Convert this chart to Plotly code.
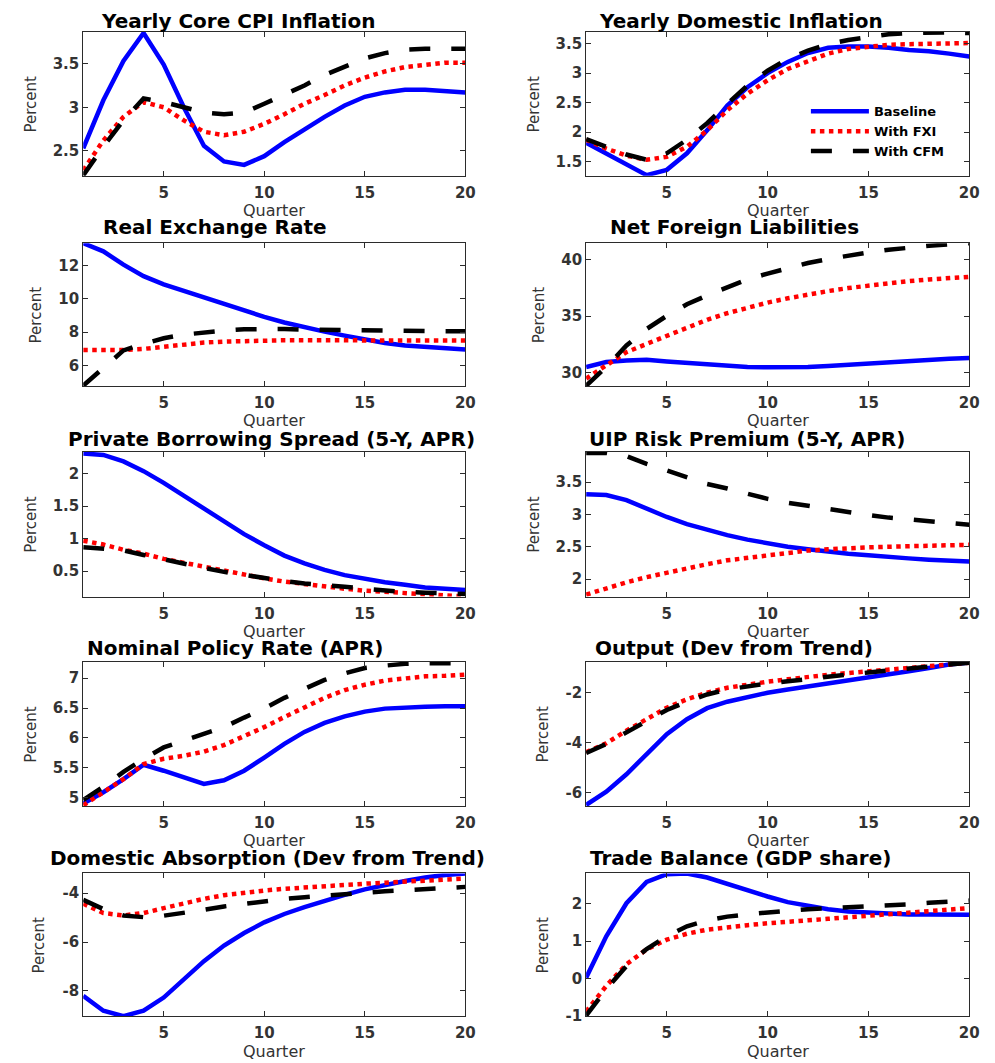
import plotly.graph_objects as go

quarters = list(range(1, 21))

# ---- data ----
core_cpi_baseline = [2.53, 3.08, 3.53, 3.85, 3.49, 3.0, 2.56, 2.38, 2.34, 2.44, 2.6, 2.75, 2.89, 3.02, 3.12, 3.17, 3.2, 3.2, 3.19, 3.17]
core_cpi_fxi = [2.28, 2.62, 2.89, 3.06, 3.0, 2.85, 2.72, 2.68, 2.72, 2.81, 2.92, 3.04, 3.14, 3.25, 3.34, 3.41, 3.46, 3.49, 3.51, 3.51]
core_cpi_cfm = [2.22, 2.55, 2.85, 3.1, 3.06, 3.0, 2.94, 2.92, 2.94, 3.04, 3.14, 3.25, 3.37, 3.47, 3.56, 3.62, 3.66, 3.67, 3.67, 3.67]

dom_inf_baseline = [1.82, 1.64, 1.44, 1.27, 1.36, 1.64, 2.03, 2.45, 2.76, 3.0, 3.19, 3.34, 3.43, 3.45, 3.45, 3.43, 3.39, 3.37, 3.33, 3.28]
dom_inf_fxi = [1.87, 1.72, 1.6, 1.53, 1.58, 1.75, 2.03, 2.37, 2.65, 2.88, 3.07, 3.21, 3.33, 3.41, 3.45, 3.48, 3.49, 3.5, 3.51, 3.51]
dom_inf_cfm = [1.88, 1.75, 1.62, 1.53, 1.64, 1.87, 2.15, 2.48, 2.79, 3.04, 3.24, 3.38, 3.49, 3.56, 3.61, 3.66, 3.68, 3.69, 3.69, 3.68]

rer_baseline = [13.35, 12.86, 12.06, 11.37, 10.87, 10.47, 10.08, 9.68, 9.28, 8.92, 8.58, 8.29, 8.03, 7.79, 7.55, 7.35, 7.19, 7.09, 7.03, 6.95]
rer_fxi = [6.93, 6.9, 6.93, 6.99, 7.13, 7.25, 7.37, 7.43, 7.47, 7.49, 7.51, 7.51, 7.5, 7.5, 7.49, 7.49, 7.49, 7.49, 7.49, 7.49]
rer_cfm = [4.78, 5.8, 6.9, 7.3, 7.63, 7.85, 7.99, 8.09, 8.17, 8.19, 8.19, 8.15, 8.13, 8.1, 8.09, 8.08, 8.07, 8.06, 8.05, 8.05]

nfl_baseline = [30.5, 30.94, 31.08, 31.14, 30.99, 30.85, 30.7, 30.58, 30.5, 30.47, 30.47, 30.5, 30.58, 30.7, 30.79, 30.9, 31.02, 31.14, 31.23, 31.29]
nfl_fxi = [29.47, 30.64, 31.81, 32.54, 33.27, 34.0, 34.68, 35.26, 35.76, 36.2, 36.58, 36.93, 37.22, 37.49, 37.72, 37.92, 38.1, 38.25, 38.36, 38.48]
nfl_cfm = [28.83, 30.5, 32.4, 33.86, 35.03, 36.05, 36.84, 37.57, 38.25, 38.77, 39.27, 39.71, 40.06, 40.38, 40.64, 40.88, 41.08, 41.23, 41.35, 41.46]

spread_baseline = [2.31, 2.29, 2.19, 2.04, 1.86, 1.66, 1.45, 1.25, 1.07, 0.9, 0.74, 0.62, 0.52, 0.44, 0.38, 0.33, 0.29, 0.25, 0.23, 0.21]
spread_fxi = [0.97, 0.91, 0.83, 0.77, 0.69, 0.63, 0.57, 0.5, 0.44, 0.39, 0.34, 0.3, 0.26, 0.23, 0.2, 0.18, 0.16, 0.14, 0.12, 0.11]
spread_cfm = [0.87, 0.85, 0.82, 0.75, 0.68, 0.62, 0.55, 0.49, 0.44, 0.39, 0.35, 0.31, 0.29, 0.26, 0.23, 0.2, 0.18, 0.17, 0.16, 0.15]

uip_baseline = [3.31, 3.3, 3.22, 3.09, 2.96, 2.85, 2.76, 2.68, 2.61, 2.55, 2.5, 2.46, 2.42, 2.39, 2.37, 2.34, 2.32, 2.3, 2.29, 2.27]
uip_fxi = [1.76, 1.86, 1.95, 2.03, 2.1, 2.17, 2.23, 2.29, 2.33, 2.37, 2.41, 2.44, 2.46, 2.48, 2.49, 2.5, 2.51, 2.52, 2.53, 2.53]
uip_cfm = [3.95, 3.95, 3.9, 3.78, 3.68, 3.58, 3.47, 3.4, 3.32, 3.24, 3.18, 3.13, 3.08, 3.03, 2.99, 2.95, 2.92, 2.89, 2.87, 2.84]

policy_baseline = [4.9, 5.09, 5.31, 5.55, 5.45, 5.33, 5.23, 5.29, 5.45, 5.67, 5.9, 6.1, 6.25, 6.36, 6.44, 6.49, 6.51, 6.52, 6.53, 6.53]
policy_fxi = [4.87, 5.09, 5.31, 5.56, 5.65, 5.7, 5.77, 5.88, 6.02, 6.18, 6.35, 6.51, 6.67, 6.8, 6.89, 6.96, 7.0, 7.03, 7.04, 7.06]
policy_cfm = [4.96, 5.18, 5.43, 5.65, 5.84, 5.95, 6.06, 6.18, 6.34, 6.49, 6.67, 6.83, 6.97, 7.08, 7.17, 7.21, 7.24, 7.25, 7.25, 7.25]

output_baseline = [-6.5, -5.97, -5.27, -4.45, -3.66, -3.06, -2.62, -2.36, -2.16, -2.0, -1.87, -1.75, -1.64, -1.54, -1.4, -1.27, -1.14, -1.01, -0.87, -0.79]
output_fxi = [-4.38, -4.03, -3.52, -3.06, -2.6, -2.26, -2.0, -1.8, -1.67, -1.56, -1.46, -1.36, -1.28, -1.21, -1.14, -1.06, -0.99, -0.93, -0.87, -0.8]
output_cfm = [-4.42, -4.05, -3.59, -3.13, -2.69, -2.36, -2.07, -1.87, -1.74, -1.63, -1.54, -1.44, -1.36, -1.27, -1.19, -1.1, -1.02, -0.94, -0.87, -0.8]

absorp_baseline = [-8.2, -8.81, -9.03, -8.81, -8.27, -7.53, -6.78, -6.14, -5.63, -5.19, -4.85, -4.57, -4.31, -4.07, -3.84, -3.66, -3.5, -3.36, -3.25, -3.19]
absorp_fxi = [-4.43, -4.81, -4.91, -4.81, -4.61, -4.41, -4.23, -4.08, -3.97, -3.89, -3.82, -3.76, -3.7, -3.65, -3.61, -3.57, -3.53, -3.48, -3.44, -3.4]
absorp_cfm = [-4.27, -4.65, -4.91, -4.98, -4.92, -4.81, -4.68, -4.54, -4.43, -4.31, -4.23, -4.16, -4.09, -4.03, -3.97, -3.92, -3.88, -3.82, -3.78, -3.74]

trade_baseline = [0.02, 1.13, 2.02, 2.59, 2.8, 2.82, 2.71, 2.53, 2.35, 2.2, 2.05, 1.95, 1.86, 1.8, 1.77, 1.74, 1.72, 1.72, 1.72, 1.71]
trade_fxi = [-0.89, -0.2, 0.38, 0.78, 1.04, 1.2, 1.31, 1.38, 1.43, 1.48, 1.51, 1.56, 1.6, 1.64, 1.68, 1.72, 1.77, 1.8, 1.85, 1.89]
trade_cfm = [-1.0, -0.29, 0.33, 0.79, 1.13, 1.4, 1.56, 1.66, 1.72, 1.78, 1.82, 1.86, 1.88, 1.9, 1.93, 1.96, 1.99, 2.03, 2.05, 2.09]

titles = ["Yearly Core CPI Inflation", "Yearly Domestic Inflation",
          "Real Exchange Rate", "Net Foreign Liabilities",
          "Private Borrowing Spread (5-Y, APR)", "UIP Risk Premium (5-Y, APR)",
          "Nominal Policy Rate (APR)", "Output (Dev from Trend)",
          "Domestic Absorption (Dev from Trend)", "Trade Balance (GDP share)"]
series = [
    (core_cpi_baseline, core_cpi_fxi, core_cpi_cfm),
    (dom_inf_baseline, dom_inf_fxi, dom_inf_cfm),
    (rer_baseline, rer_fxi, rer_cfm),
    (nfl_baseline, nfl_fxi, nfl_cfm),
    (spread_baseline, spread_fxi, spread_cfm),
    (uip_baseline, uip_fxi, uip_cfm),
    (policy_baseline, policy_fxi, policy_cfm),
    (output_baseline, output_fxi, output_cfm),
    (absorp_baseline, absorp_fxi, absorp_cfm),
    (trade_baseline, trade_fxi, trade_cfm),
]
y_ranges = [[2.216, 3.864], [1.26, 3.70], [4.75, 13.35], [28.8, 41.46], [0.11, 2.34],
            [1.73, 3.97], [4.86, 7.27], [-6.54, -0.77], [-9.04, -3.19], [-1.02, 2.82]]
y_ticks = [[2.5, 3, 3.5], [1.5, 2, 2.5, 3, 3.5], [6, 8, 10, 12], [30, 35, 40], [0.5, 1, 1.5, 2],
           [2, 2.5, 3, 3.5], [5, 5.5, 6, 6.5, 7], [-6, -4, -2], [-8, -6, -4], [-1, 0, 1, 2]]
y_ticklabels = [["2.5", "3", "3.5"], ["1.5", "2", "2.5", "3", "3.5"], ["6", "8", "10", "12"],
                ["30", "35", "40"], ["0.5", "1", "1.5", "2"], ["2", "2.5", "3", "3.5"],
                ["5", "5.5", "6", "6.5", "7"], ["-6", "-4", "-2"], ["-8", "-6", "-4"],
                ["-1", "0", "1", "2"]]
x_ticks = [5, 10, 15, 20]
names = ["Baseline", "With FXI", "With CFM"]

# ---- layout geometry (pixels) ----
W, H = 995, 1063
col_x = [(76, 462), (584, 971)]
row_y = [(24, 169), (237, 381), (447, 593), (659, 804), (872, 1016)]
title_cx = [232, 740, 209, 734, 266, 746, 230, 733, 262, 740]
title_top = [0, 0, 208, 208, 421, 421, 632, 632, 843, 843]
percent_x = [23, 531, 28, 536, 23, 531, 23, 540, 31, 540]

def px_x(p):
    return p / W

def px_y(p):
    return 1 - p / H

styles = [dict(color="#0000FF", width=4.5),
          dict(color="#FF0000", width=4.5, dash="dot"),
          dict(color="#000000", width=4.5, dash="21px,21px")]

fig = go.Figure()
layout = {}
annotations = []
axis_color = "#2b2b2b"
tick_font = dict(family="DejaVu Sans", size=15, color="#333333", weight="bold")

for i in range(10):
    r, c = divmod(i, 2)
    k = "" if i == 0 else str(i + 1)
    x0, x1 = col_x[c]
    y0, y1 = row_y[r]
    for j in range(3):
        fig.add_trace(go.Scatter(
            x=quarters, y=series[i][j], mode="lines", name=names[j],
            line=styles[j], showlegend=(i == 0),
            xaxis="x" + k, yaxis="y" + k))
    layout["xaxis" + k] = dict(
        domain=[px_x(x0), px_x(x1)], anchor="y" + k, range=[1, 20],
        tickvals=x_ticks, ticks="inside", ticklen=5, tickcolor=axis_color,
        showline=True, linecolor=axis_color, linewidth=1, mirror="ticks",
        showgrid=False, zeroline=False, tickfont=tick_font, ticklabelstandoff=3)
    layout["yaxis" + k] = dict(
        domain=[px_y(y1), px_y(y0)], anchor="x" + k, range=y_ranges[i],
        tickvals=y_ticks[i], ticktext=y_ticklabels[i], ticks="inside", ticklen=5,
        tickcolor=axis_color, showline=True, linecolor=axis_color, linewidth=1,
        mirror="ticks", showgrid=False, zeroline=False, tickfont=tick_font)
    annotations.append(dict(
        text=titles[i], x=px_x(title_cx[i]), y=px_y(title_top[i]), xref="paper", yref="paper",
        xanchor="center", yanchor="top", showarrow=False, borderpad=0,
        font=dict(family="DejaVu Sans", size=20, color="#000000", weight="bold")))
    annotations.append(dict(
        text="Quarter", x=px_x((x0 + x1) / 2), y=px_y(y1 + 35), xref="paper", yref="paper",
        xanchor="center", yanchor="middle", showarrow=False, borderpad=0,
        font=dict(family="DejaVu Sans", size=16, color="#333333")))
    annotations.append(dict(
        text="Percent", x=px_x(percent_x[i]), y=px_y((y0 + y1) / 2), xref="paper", yref="paper",
        xanchor="center", yanchor="middle", showarrow=False, textangle=-90,
        font=dict(family="DejaVu Sans", size=15, color="#333333")))

fig.update_layout(**layout)
fig.update_layout(
    width=W, height=H, margin=dict(l=0, r=0, t=0, b=0),
    paper_bgcolor="white", plot_bgcolor="white",
    annotations=annotations,
    legend=dict(x=px_x(806), y=px_y(89), xanchor="left", yanchor="top",
                bgcolor="rgba(0,0,0,0)", itemwidth=58, tracegroupgap=0,
                font=dict(family="DejaVu Sans", size=13, color="#000000", weight="bold")),
)
fig.write_html("out.html")
